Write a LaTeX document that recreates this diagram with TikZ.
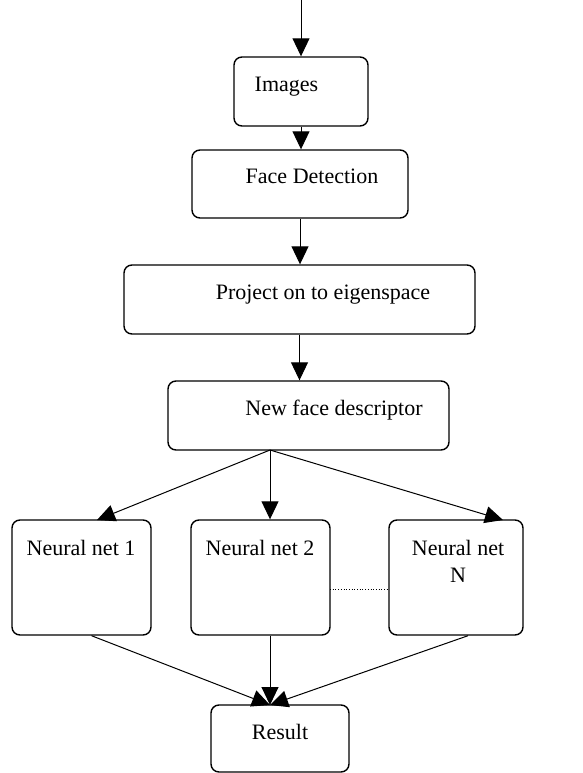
\documentclass[tikz,border=0pt]{standalone}
\usepackage{fontspec}
\setmainfont{Liberation Serif}
\usetikzlibrary{arrows.meta}
\begin{document}
\begin{tikzpicture}[x=1pt,y=-1pt,>={Triangle[width=17pt,length=18pt]},line width=1pt,
  kasten/.style={draw,line width=1.4pt,rounded corners=8pt,inner sep=0pt},
  txt/.style={anchor=base,inner sep=0pt,font=\fontsize{22}{27}\selectfont,align=center}]
\useasboundingbox (0,0) rectangle (582,773);
\def\kiste#1#2#3#4#5{\node[kasten,minimum width=#4pt,minimum height=#5pt] (#1) at (#2,#3) {};}
\kiste{img}{301}{91.5}{134}{69}
\kiste{face}{300}{184}{216}{68}
\kiste{proj}{299.5}{299.5}{351}{69}
\kiste{desc}{308.5}{415.5}{281}{69}
\kiste{nn1}{81.5}{577.5}{139}{115}
\kiste{nn2}{260.5}{577.5}{139}{115}
\kiste{nnN}{456}{577.5}{134}{115}
\kiste{res}{280}{738.5}{138}{67}
\node[txt] (t-img) at (286.5,92) {Images};
\node[txt] (t-face) at (312,183) {Face Detection};
\node[txt] (t-proj) at (323,299) {Project on to eigenspace};
\node[txt] (t-desc) at (334,415) {New face descriptor};
\node[txt] (t-nn1) at (81,555) {Neural net 1};
\node[txt] (t-nn2) at (260,555) {Neural net 2};
\node[txt] (t-nnN) at (458,582) {Neural net\\N};
\node[txt] (t-res) at (280,739) {Result};
\coordinate (start) at (301,0);
\coordinate (fork) at (270,450);
\coordinate (join) at (270,705);
\draw[->] (start) -- (img.north);
\draw[->] (img.south) -- (img.south |- face.north);
\draw[->] (face.south) -- (face.south |- proj.north);
\draw[->] (proj.south) -- (proj.south |- desc.north);
\draw[->] (fork) -- (97,520);
\draw[->] (fork) -- (fork |- nn2.north);
\draw[->] (fork) -- (503,520);
\draw[->] (nn1.south) ++(10,0) -- (join);
\draw[->] (fork |- nn2.south) -- (join);
\draw[->] (nnN.south) ++(12,0) -- (join);
\draw[dotted,line width=0.7pt] (330,589) -- (389,589);
\end{tikzpicture}
\end{document}
